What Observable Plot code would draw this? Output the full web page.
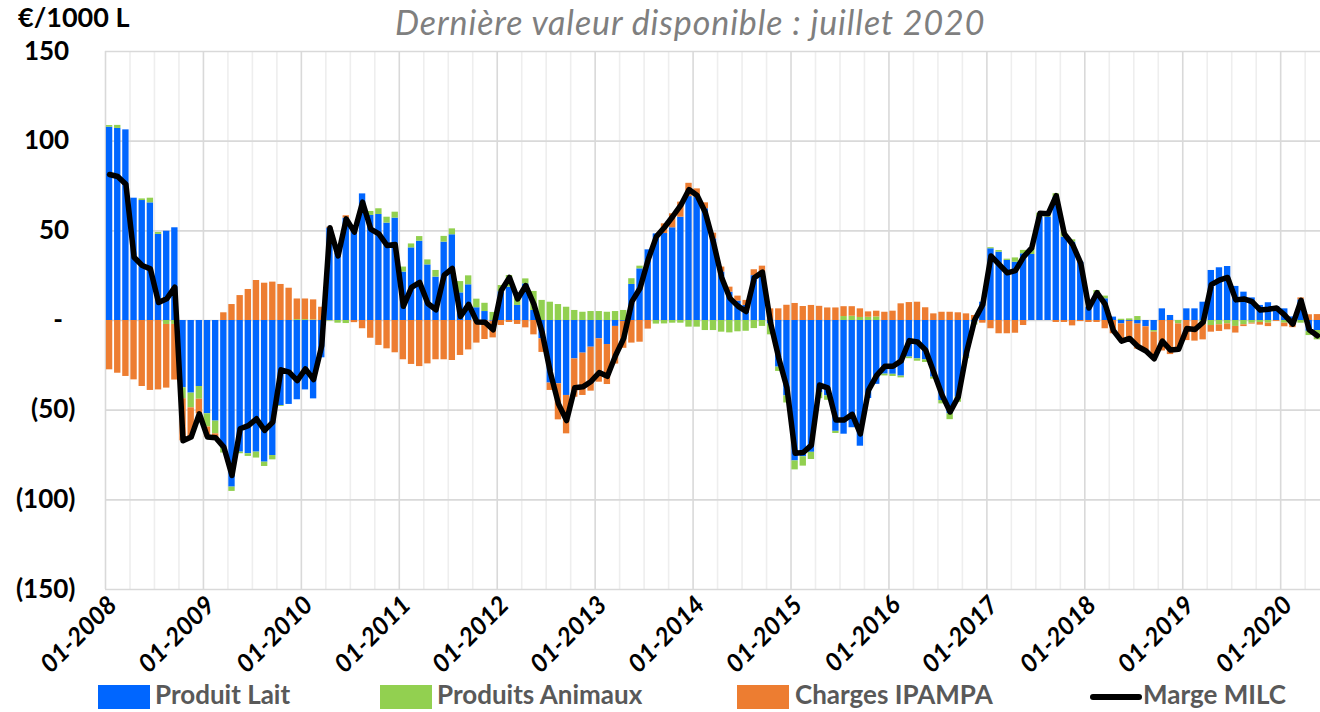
<!DOCTYPE html>
<html><head><meta charset="utf-8">
<script src="https://cdn.jsdelivr.net/npm/d3@7"></script>
<script src="https://cdn.jsdelivr.net/npm/@observablehq/plot@0.6"></script>
<style>
html,body{margin:0;padding:0;background:#fff;overflow:hidden;}
#wrap{position:relative;width:1320px;height:712px;font-family:Lato,"Open Sans",sans-serif;overflow:hidden;}
#chart{position:absolute;left:0;top:0;}
.unit{position:absolute;left:18px;top:2px;font-weight:700;font-size:27px;line-height:30px;color:#000;white-space:nowrap;}
.sub{position:absolute;left:395px;top:3px;font-style:italic;color:#7f7f7f;font-size:34px;line-height:38px;letter-spacing:0.9px;white-space:nowrap;}
.sw{position:absolute;top:685px;width:52px;height:24px;}
.lg{position:absolute;top:680px;font-weight:700;font-size:26px;line-height:29px;color:#595959;white-space:nowrap;}
.ln{position:absolute;top:694px;width:52px;height:6px;background:#000;border-radius:3px;}
</style>
</head><body>
<div id="wrap">
  <div id="chart"></div>
  <div class="unit">€/1000 L</div>
  <div class="sub">Dernière valeur disponible : juillet 2020</div>
  <div class="sw" style="left:98px;background:#0066ff"></div><div class="lg" style="left:155px">Produit Lait</div>
  <div class="sw" style="left:380px;background:#92d050"></div><div class="lg" style="left:437px">Produits Animaux</div>
  <div class="sw" style="left:737px;background:#ed7d31"></div><div class="lg" style="left:795px">Charges IPAMPA</div>
  <div class="ln" style="left:1090px"></div><div class="lg" style="left:1143px">Marge MILC</div>
</div>
<script>
// Monthly values, Jan 2008 .. May 2020 (visible part), €/1000 L
const lait = [107.8,107.1,106.3,68.2,66.9,65.6,48.0,49.8,51.7,-37.5,-40.5,-36.8,
-52.0,-56.1,-70.6,-92.9,-73.4,-74.3,-73.4,-79.0,-75.3,-47.4,-46.8,-44.2,
-38.7,-43.7,-20.8,51.5,37.5,57.1,50.5,70.6,58.6,59.1,54.3,57.1,
27.0,40.5,44.2,31.0,24.2,43.7,47.8,15.4,19.9,7.1,5.0,-0.4,
16.0,18.6,8.4,20.4,5.6,-10.2,-34.9,-35.3,-41.8,-21.4,-18.2,-14.9,
-10.2,-13.4,-3.3,-0.5,20.1,28.8,39.4,48.3,48.5,51.7,57.6,69.1,
68.8,62.3,45.5,27.0,15.8,10.8,8.4,25.0,26.0,-2.0,-26.0,-42.0,
-78.3,-76.0,-73.5,-40.3,-42.0,-61.8,-63.4,-59.8,-70.1,-43.5,-35.6,-29.9,
-30.0,-31.0,-20.4,-21.4,-21.9,-31.6,-44.6,-52.0,-42.8,-20.4,-1.0,10.2,
40.0,38.1,33.5,32.5,37.2,36.8,57.6,57.6,68.8,46.5,43.7,32.5,
7.4,13.0,12.1,1.9,-1.9,-0.5,-2.0,-3.5,-5.6,6.5,2.8,0,
6.5,6.5,10.2,27.9,29.4,30.1,19.0,15.8,12.6,8.4,9.9,7.8,
6.5,2.0,11.5,-6.0,-5.6];
const animaux = [0.9,1.7,0,0,0.9,2.6,1.1,-2.2,-2.2,-6.1,-8.2,-7.1,
-7.4,-7.1,-3.3,-2.4,-0.9,-1.5,-3.3,-2.4,-2.4,-0.5,0,0.5,
0.5,0.3,0,-0.3,-1.5,-1.7,0,0,2.2,3.2,3.3,3.3,
2.8,2.2,2.6,2.8,3.7,3.2,3.3,6.3,5.0,4.8,4.6,4.5,
3.5,6.5,4.6,2.8,10.6,11.2,10.2,8.9,7.4,5.6,4.6,5.0,
5.0,4.6,5.0,5.6,3.2,1.5,0,-2.0,-1.9,-1.5,-1.5,-3.7,
-3.7,-5.6,-5.6,-6.5,-6.9,-6.3,-6.0,-4.5,-3.3,-6.0,-2.4,-4.0,
-5.0,-5.2,-4.0,-3.3,-2.5,-1.2,2.2,2.4,1.7,1.8,2.0,-1.0,
-1.2,-1.0,-0.9,-1.3,-1.5,-1.1,-1.9,-3.3,-2.8,-0.9,-1.5,0,
0.6,0.9,0.7,2.4,1.9,3.2,2.2,0.9,1.9,2.8,1.3,0,
0,3.7,1.5,0,0.7,0.9,2.2,0,-0.9,0,0,-1.9,
0,0,-2.2,-2.8,-2.4,-1.9,-3.3,-2.4,-1.5,-1.1,-1.5,0,
-1.5,-1.5,-1.5,-2.4,-5.2];
const charges = [-27.5,-29.4,-31.2,-33.1,-36.8,-39.0,-38.7,-35.5,-31.0,-23.5,-16.4,-8.1,
-5.6,-2.2,4.3,8.9,13.9,17.3,22.3,20.8,21.4,20.1,18.0,11.5,
11.5,11.2,7.4,0.5,0,1.3,-1.2,-4.6,-9.9,-13.9,-15.8,-18.0,
-21.9,-24.5,-25.7,-24.2,-21.9,-21.9,-22.3,-19.5,-16.4,-12.6,-10.6,-9.3,
-2.8,-1.1,-2.2,-4.1,-8.0,-7.6,-4.1,-20.1,-21.4,-21.4,-23.6,-24.5,
-24.2,-22.3,-21.0,-15.0,-12.6,-12.1,-4.8,0,5.4,7.8,8.4,7.4,
4.6,3.3,3.2,2.8,2.8,2.8,2.8,3.3,4.3,6.5,6.5,8.5,
9.5,7.8,8.4,7.9,7.0,7.0,5.5,5.3,4.8,3.0,3.2,4.6,
5.2,9.3,10.0,10.2,7.1,3.7,4.6,4.6,4.3,3.7,2.8,-1.5,
-4.6,-7.4,-7.4,-7.1,-2.8,0,0,0.5,-1.1,-1.1,-3.0,-0.6,
-1.1,-1.1,-4.6,-7.4,-9.3,-10.2,-14.0,-13.5,-14.9,-17.0,-19.0,-14.0,
-11.2,-11.5,-8.6,-3.7,-3.7,-3.3,-3.7,-1.0,-0.5,-1.5,-1.9,-0.5,
-2.0,-2.5,1.1,3.2,3.3];
const marge = [81.4,80.3,76,35.3,30.7,28.8,10,12.1,18.6,-67,-65,-52,
-65,-65.4,-70.6,-86.4,-60.4,-58.6,-54.8,-61.3,-56.7,-27.5,-28.8,-33.5,
-27,-33,-14,51.7,36,56.7,49.3,66,51,48.3,41.8,42.4,
7.9,18.5,21.2,9.5,6,25.3,29,2.2,9,-0.8,-1,-5.2,
16.7,24,12,19.5,9,-6.5,-28.8,-46.5,-55.8,-37.5,-37,-34,
-29,-31.1,-19.5,-10,10.5,18,34,46.8,52,58,64.3,73,
69.7,60.2,43.5,24,12.5,8,5,23.8,27,-1.5,-21,-37.5,
-74,-73.6,-69.5,-36,-37.6,-55.5,-55.5,-52.3,-63.3,-38.8,-30.6,-25.5,
-25.5,-22.5,-11.2,-12,-16.5,-29,-41.5,-51,-42.5,-18,0.3,8.9,
36,31.3,26.6,27.8,35.5,40.5,59.8,59.5,69.6,48.2,42.4,32,
7,15.5,9,-5.6,-11.5,-10,-14.5,-17,-21.4,-11.5,-16.5,-16,
-4.5,-5,-1,20,22.5,24,11.5,12,10.5,5.8,6.3,7,
3,-2,11.2,-5.2,-8.5];
const seriesNames = ["Produit Lait","Produits Animaux","Charges IPAMPA"];
const seriesColors = ["#0066ff","#92d050","#ed7d31"];
const xTickLabels = ["01-2008","01-2009","01-2010","01-2011","01-2012","01-2013","01-2014","01-2015","01-2016","01-2017","01-2018","01-2019","01-2020"];
const yTicks = [150,100,50,0,-50,-100,-150];

const n = lait.length;
const long = [];
for (let i = 0; i < n; i++) {
  long.push({i, s: seriesNames[0], v: lait[i]});
  long.push({i, s: seriesNames[1], v: animaux[i]});
  long.push({i, s: seriesNames[2], v: charges[i]});
}
const lineData = marge.map((m, i) => ({i, m}));
const yearIdx = xTickLabels.map((_, k) => k * 12);
const quarterIdx = d3.range(0, n, 3).filter(q => q % 12 !== 0);
const fmtY = d => d === 0 ? "-\u00a0\u00a0" : d < 0 ? `(${-d})` : `${d}\u00a0`;

const chart = Plot.plot({
  width: 1320, height: 712,
  marginTop: 51, marginBottom: 123, marginLeft: 105, marginRight: 0,
  x: {type: "linear", domain: [0, 148.88], axis: null},
  y: {domain: [-150, 150], axis: null},
  color: {domain: seriesNames, range: seriesColors},
  style: {fontFamily: "Lato, 'Open Sans', sans-serif", background: "transparent", overflow: "visible"},
  marks: [
    Plot.ruleX(quarterIdx, {x: d => d, y1: -150, y2: 150, stroke: "#eeeeee", strokeWidth: 1.6}),
    Plot.ruleY(yTicks, {y: d => d, stroke: "#d9d9d9", strokeWidth: 1.6}),
    Plot.ruleX(yearIdx, {x: d => d, y1: -150, y2: 150, stroke: "#d9d9d9", strokeWidth: 1.6}),
    Plot.rectY(long, {x1: d => d.i, x2: d => d.i + 1, y: "v", fill: "s", insetLeft: 0.9, insetRight: 0.9}),
    Plot.lineY(lineData, {x: d => d.i + 0.5, y: "m", stroke: "#000", strokeWidth: 5.5, strokeLinejoin: "round", strokeLinecap: "round"}),
    Plot.text(yTicks, {y: d => d, frameAnchor: "left", textAnchor: "end", dx: -30, text: fmtY, fontSize: 26, fontWeight: "bold", fill: "#000"}),
    Plot.text(yearIdx, {x: d => d, frameAnchor: "bottom", text: (d, k) => xTickLabels[k], rotate: -45, textAnchor: "end", dx: 13, dy: 17, fontSize: 25, fontWeight: "bold", fontStyle: "italic", fill: "#000"})
  ]
});
document.getElementById("chart").appendChild(chart);
</script>
</body></html>
